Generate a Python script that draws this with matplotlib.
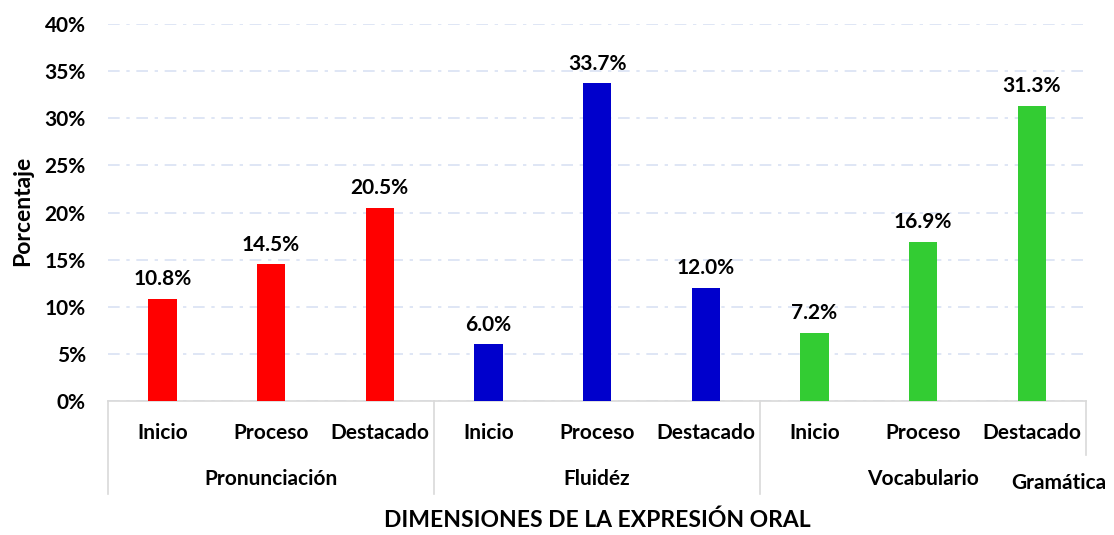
import matplotlib
matplotlib.use("Agg")
import matplotlib.pyplot as plt
from matplotlib.lines import Line2D
from matplotlib.ticker import PercentFormatter

# ── Datos ──
niveles = ["Inicio", "Proceso", "Destacado"] * 3
dimensiones = ["Pronunciación", "Fluidéz", "Vocabulario"]
valores = [10.8, 14.5, 20.5, 6.0, 33.7, 12.0, 7.2, 16.9, 31.3]
colores_grupo = ["#FF0000", "#0000CC", "#33CC33"]

FUENTE = ["Lato", "DejaVu Sans"]
plt.rcParams["font.family"] = FUENTE
plt.rcParams["font.weight"] = "bold"
FS = 15

fig = plt.figure(figsize=(11.14, 5.35), dpi=100)
ax = fig.add_axes([0.097, 0.2505, 0.878, 0.7045])

x = list(range(len(valores)))
colores = [colores_grupo[i // 3] for i in x]
barras = ax.bar(x, valores, width=0.26, color=colores, zorder=3)

for b, v in zip(barras, valores):
    ax.annotate(f"{v:.1f}%", (b.get_x() + b.get_width() / 2, v),
                xytext=(0, 7), textcoords="offset points",
                ha="center", va="bottom", fontsize=FS, fontweight="bold")

ax.set_xlim(-0.5, 8.5)
ax.set_ylim(0, 40)
ax.set_yticks(range(0, 41, 5))
ax.yaxis.set_major_formatter(PercentFormatter(decimals=0))
ax.tick_params(axis="y", length=0, pad=16, labelsize=FS)
ax.set_xticks([])
ax.grid(axis="y", color="#D9E2F3", linewidth=1.2,
        linestyle=(0, (7, 4, 2, 4)), zorder=0)

for s in ["top", "right", "left"]:
    ax.spines[s].set_visible(False)
ax.spines["bottom"].set_color("#D9D9D9")
ax.spines["bottom"].set_linewidth(1.2)

# Etiquetas de dos niveles
trans = ax.get_xaxis_transform()
for i, n in enumerate(niveles):
    ax.text(i, -0.085, n, transform=trans, ha="center", va="center",
            fontsize=FS, fontweight="bold")
for g, d in enumerate(dimensiones):
    ax.text(g * 3 + 1, -0.207, d, transform=trans, ha="center", va="center",
            fontsize=FS, fontweight="bold")
ax.text(8.25, -0.217, "Gramática", transform=trans, ha="center", va="center",
        fontsize=FS, fontweight="bold", clip_on=False)

for xs, y0 in [(-0.5, -0.247), (2.5, -0.247), (5.5, -0.247), (8.5, -0.143)]:
    ax.add_line(Line2D([xs, xs], [0, y0], transform=trans, color="#D9D9D9",
                       linewidth=1.2, clip_on=False))

fig.text(0.536, 0.028, "DIMENSIONES DE LA EXPRESIÓN ORAL", ha="center",
         va="center", fontsize=16.5, fontweight="bold")
fig.text(0.02, 0.605, "Porcentaje", rotation=90, ha="center", va="center",
         fontsize=16.5, fontweight="bold")

fig.savefig("out.png", dpi=100)
